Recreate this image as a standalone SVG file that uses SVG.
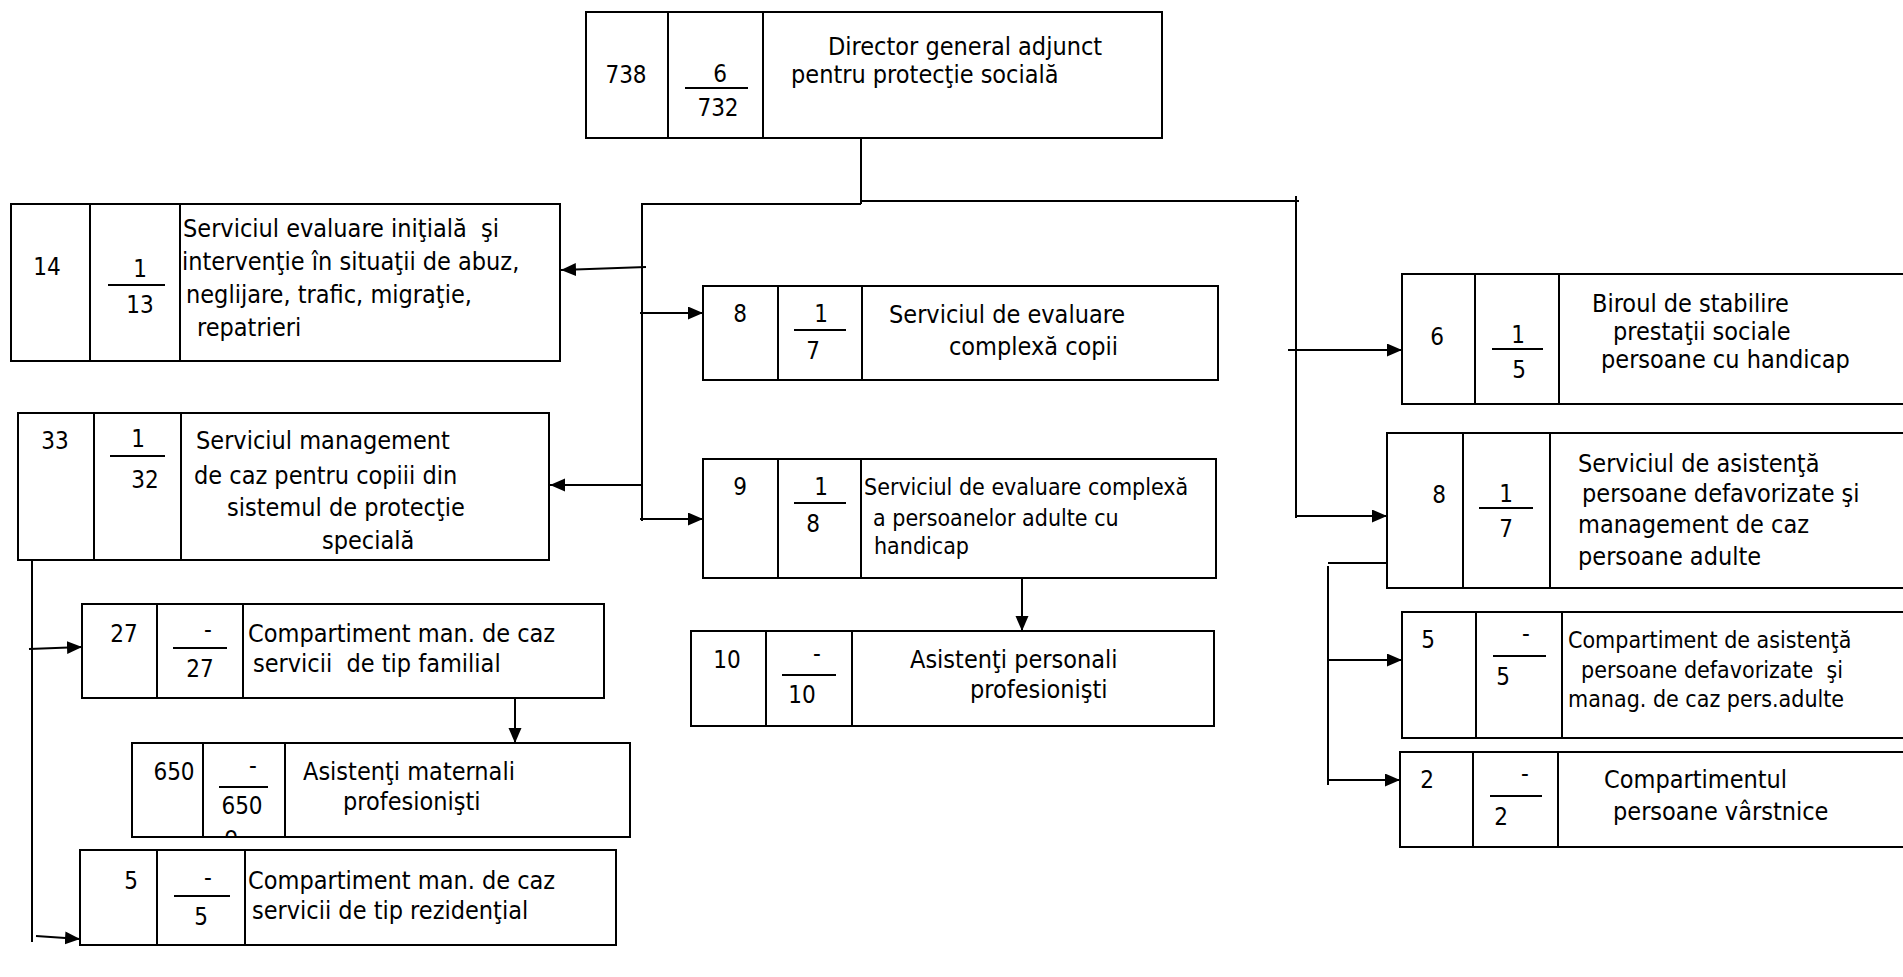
<svg xmlns="http://www.w3.org/2000/svg" width="1903" height="977" viewBox="0 0 1903 977">
<style>
  .box{fill:#fff;stroke:#000;stroke-width:2}
  .dv{stroke:#000;stroke-width:2}
  .fr{stroke:#000;stroke-width:2}
  .cn{stroke:#000;stroke-width:2;fill:none}
  .ar{stroke:#000;stroke-width:2;fill:none;marker-end:url(#ah)}
  text{font-family:"DejaVu Sans Condensed","DejaVu Sans",sans-serif;font-stretch:condensed;fill:#000;white-space:pre}
  .t{font-size:25px}
  .s{font-size:23px}
  .n{font-size:24px;text-anchor:middle}
</style>
<defs>
  <marker id="ah" markerUnits="userSpaceOnUse" markerWidth="16" markerHeight="14" refX="15" refY="6.5" orient="auto">
    <path d="M0,0 L15,6.5 L0,13 z" fill="#000"/>
  </marker>
  <clipPath id="clip650"><rect x="204" y="788" width="80" height="48"/></clipPath>
</defs>

<g id="connectors">
  <line class="cn" x1="861" y1="138" x2="861" y2="204"/>
  <line class="cn" x1="641" y1="204" x2="861" y2="204"/>
  <line class="cn" x1="861" y1="201" x2="1299" y2="201"/>
  <line class="cn" x1="642" y1="203" x2="642" y2="521"/>
  <line class="cn" x1="1296" y1="196" x2="1296" y2="518"/>
  <line class="ar" x1="646" y1="267" x2="561" y2="270"/>
  <line class="ar" x1="640" y1="313" x2="703" y2="313"/>
  <line class="ar" x1="642" y1="485" x2="550" y2="485"/>
  <line class="ar" x1="640" y1="519" x2="703" y2="519"/>
  <line class="ar" x1="1022" y1="578" x2="1022" y2="631"/>
  <line class="ar" x1="1288" y1="350" x2="1402" y2="350"/>
  <line class="ar" x1="1297" y1="516" x2="1387" y2="516"/>
  <line class="cn" x1="1387" y1="563" x2="1328" y2="563"/>
  <line class="cn" x1="1328" y1="566" x2="1328" y2="785"/>
  <line class="ar" x1="1328" y1="660" x2="1402" y2="660"/>
  <line class="ar" x1="1328" y1="780" x2="1400" y2="780"/>
  <line class="cn" x1="32" y1="560" x2="32" y2="942"/>
  <line class="ar" x1="29" y1="649" x2="82" y2="647"/>
  <line class="ar" x1="36" y1="936" x2="80" y2="939"/>
  <line class="ar" x1="515" y1="698" x2="515" y2="743"/>
</g>

<g id="n-director">
  <rect class="box" x="586" y="12" width="576" height="126"/>
  <line class="dv" x1="668" y1="12" x2="668" y2="138"/>
  <line class="dv" x1="763" y1="12" x2="763" y2="138"/>
  <text class="n" x="626" y="83">738</text>
  <text class="n" x="720" y="82">6</text>
  <line class="fr" x1="685" y1="88" x2="748" y2="88"/>
  <text class="n" x="718" y="116">732</text>
  <text class="t" x="828" y="55">Director general adjunct</text>
  <text class="t" x="791" y="83">pentru protecţie socială</text>
</g>

<g id="n-evaluare-initiala">
  <rect class="box" x="11" y="204" width="549" height="157"/>
  <line class="dv" x1="90" y1="204" x2="90" y2="361"/>
  <line class="dv" x1="180" y1="204" x2="180" y2="361"/>
  <text class="n" x="47" y="275">14</text>
  <text class="n" x="140" y="277">1</text>
  <line class="fr" x1="108" y1="285" x2="165" y2="285"/>
  <text class="n" x="140" y="313">13</text>
  <text class="t" x="183" y="237" xml:space="preserve">Serviciul evaluare iniţială  şi</text>
  <text class="t" x="182" y="270">intervenţie în situaţii de abuz,</text>
  <text class="t" x="186" y="303">neglijare, trafic, migraţie,</text>
  <text class="t" x="197" y="336">repatrieri</text>
</g>

<g id="n-management-caz">
  <rect class="box" x="18" y="413" width="531" height="147"/>
  <line class="dv" x1="94" y1="413" x2="94" y2="560"/>
  <line class="dv" x1="181" y1="413" x2="181" y2="560"/>
  <text class="n" x="55" y="449">33</text>
  <text class="n" x="138" y="447">1</text>
  <line class="fr" x1="110" y1="456" x2="165" y2="456"/>
  <text class="n" x="145" y="488">32</text>
  <text class="t" x="196" y="449">Serviciul management</text>
  <text class="t" x="194" y="484">de caz pentru copiii din</text>
  <text class="t" x="227" y="516">sistemul de protecţie</text>
  <text class="t" x="322" y="549">specială</text>
</g>

<g id="n-evaluare-copii">
  <rect class="box" x="703" y="286" width="515" height="94"/>
  <line class="dv" x1="778" y1="286" x2="778" y2="380"/>
  <line class="dv" x1="862" y1="286" x2="862" y2="380"/>
  <text class="n" x="740" y="322">8</text>
  <text class="n" x="821" y="322">1</text>
  <line class="fr" x1="794" y1="330" x2="846" y2="330"/>
  <text class="n" x="813" y="359">7</text>
  <text class="t" x="889" y="323">Serviciul de evaluare</text>
  <text class="t" x="949" y="355">complexă copii</text>
</g>

<g id="n-evaluare-adulti">
  <rect class="box" x="703" y="459" width="513" height="119"/>
  <line class="dv" x1="778" y1="459" x2="778" y2="578"/>
  <line class="dv" x1="861" y1="459" x2="861" y2="578"/>
  <text class="n" x="740" y="495">9</text>
  <text class="n" x="821" y="495">1</text>
  <line class="fr" x1="794" y1="503" x2="846" y2="503"/>
  <text class="n" x="813" y="532">8</text>
  <text class="s" x="864" y="495">Serviciul de evaluare complexă</text>
  <text class="s" x="873" y="526">a persoanelor adulte cu</text>
  <text class="s" x="874" y="554">handicap</text>
</g>

<g id="n-asistenti-personali">
  <rect class="box" x="691" y="631" width="523" height="95"/>
  <line class="dv" x1="766" y1="631" x2="766" y2="726"/>
  <line class="dv" x1="852" y1="631" x2="852" y2="726"/>
  <text class="n" x="727" y="668">10</text>
  <text class="n" x="817" y="662">-</text>
  <line class="fr" x1="782" y1="675" x2="836" y2="675"/>
  <text class="n" x="802" y="703">10</text>
  <text class="t" x="910" y="668">Asistenţi personali</text>
  <text class="t" x="970" y="698">profesionişti</text>
</g>

<g id="n-familial">
  <rect class="box" x="82" y="604" width="522" height="94"/>
  <line class="dv" x1="157" y1="604" x2="157" y2="698"/>
  <line class="dv" x1="243" y1="604" x2="243" y2="698"/>
  <text class="n" x="124" y="642">27</text>
  <text class="n" x="208" y="638">-</text>
  <line class="fr" x1="173" y1="648" x2="227" y2="648"/>
  <text class="n" x="200" y="677">27</text>
  <text class="t" x="248" y="642">Compartiment man. de caz</text>
  <text class="t" x="253" y="672" xml:space="preserve">servicii  de tip familial</text>
</g>

<g id="n-asistenti-maternali">
  <rect class="box" x="132" y="743" width="498" height="94"/>
  <line class="dv" x1="203" y1="743" x2="203" y2="837"/>
  <line class="dv" x1="285" y1="743" x2="285" y2="837"/>
  <text class="n" x="174" y="780">650</text>
  <text class="n" x="253" y="774">-</text>
  <line class="fr" x1="219" y1="787" x2="268" y2="787"/>
  <text class="n" x="242" y="814">650</text>
  <text class="n" x="231" y="844" clip-path="url(#clip650)">o</text>
  <text class="t" x="303" y="780">Asistenţi maternali</text>
  <text class="t" x="343" y="810">profesionişti</text>
</g>

<g id="n-rezidential">
  <rect class="box" x="80" y="850" width="536" height="95"/>
  <line class="dv" x1="157" y1="850" x2="157" y2="945"/>
  <line class="dv" x1="245" y1="850" x2="245" y2="945"/>
  <text class="n" x="131" y="889">5</text>
  <text class="n" x="208" y="886">-</text>
  <line class="fr" x1="174" y1="896" x2="230" y2="896"/>
  <text class="n" x="201" y="925">5</text>
  <text class="t" x="248" y="889">Compartiment man. de caz</text>
  <text class="t" x="252" y="919">servicii de tip rezidenţial</text>
</g>

<g id="n-biroul">
  <rect class="box" x="1402" y="274" width="520" height="130"/>
  <line class="dv" x1="1475" y1="274" x2="1475" y2="404"/>
  <line class="dv" x1="1559" y1="274" x2="1559" y2="404"/>
  <text class="n" x="1437" y="345">6</text>
  <text class="n" x="1518" y="343">1</text>
  <line class="fr" x1="1492" y1="349" x2="1543" y2="349"/>
  <text class="n" x="1519" y="378">5</text>
  <text class="t" x="1592" y="312">Biroul de stabilire</text>
  <text class="t" x="1613" y="340">prestaţii sociale</text>
  <text class="t" x="1601" y="368">persoane cu handicap</text>
</g>

<g id="n-asistenta-adulte">
  <rect class="box" x="1387" y="433" width="535" height="155"/>
  <line class="dv" x1="1463" y1="433" x2="1463" y2="588"/>
  <line class="dv" x1="1550" y1="433" x2="1550" y2="588"/>
  <text class="n" x="1439" y="503">8</text>
  <text class="n" x="1506" y="502">1</text>
  <line class="fr" x1="1479" y1="508" x2="1533" y2="508"/>
  <text class="n" x="1506" y="537">7</text>
  <text class="t" x="1578" y="472">Serviciul de asistenţă</text>
  <text class="t" x="1582" y="502">persoane defavorizate şi</text>
  <text class="t" x="1578" y="533">management de caz</text>
  <text class="t" x="1578" y="565">persoane adulte</text>
</g>

<g id="n-compartiment-asistenta">
  <rect class="box" x="1402" y="612" width="520" height="126"/>
  <line class="dv" x1="1476" y1="612" x2="1476" y2="738"/>
  <line class="dv" x1="1562" y1="612" x2="1562" y2="738"/>
  <text class="n" x="1428" y="648">5</text>
  <text class="n" x="1526" y="642">-</text>
  <line class="fr" x1="1493" y1="656" x2="1546" y2="656"/>
  <text class="n" x="1503" y="685">5</text>
  <text class="s" x="1568" y="648">Compartiment de asistenţă</text>
  <text class="s" x="1581" y="678" xml:space="preserve">persoane defavorizate  şi</text>
  <text class="s" x="1568" y="707">manag. de caz pers.adulte</text>
</g>

<g id="n-varstnice">
  <rect class="box" x="1400" y="752" width="522" height="95"/>
  <line class="dv" x1="1473" y1="752" x2="1473" y2="847"/>
  <line class="dv" x1="1558" y1="752" x2="1558" y2="847"/>
  <text class="n" x="1427" y="788">2</text>
  <text class="n" x="1525" y="782">-</text>
  <line class="fr" x1="1490" y1="796" x2="1542" y2="796"/>
  <text class="n" x="1501" y="825">2</text>
  <text class="t" x="1604" y="788">Compartimentul</text>
  <text class="t" x="1613" y="820">persoane vârstnice</text>
</g>
</svg>
